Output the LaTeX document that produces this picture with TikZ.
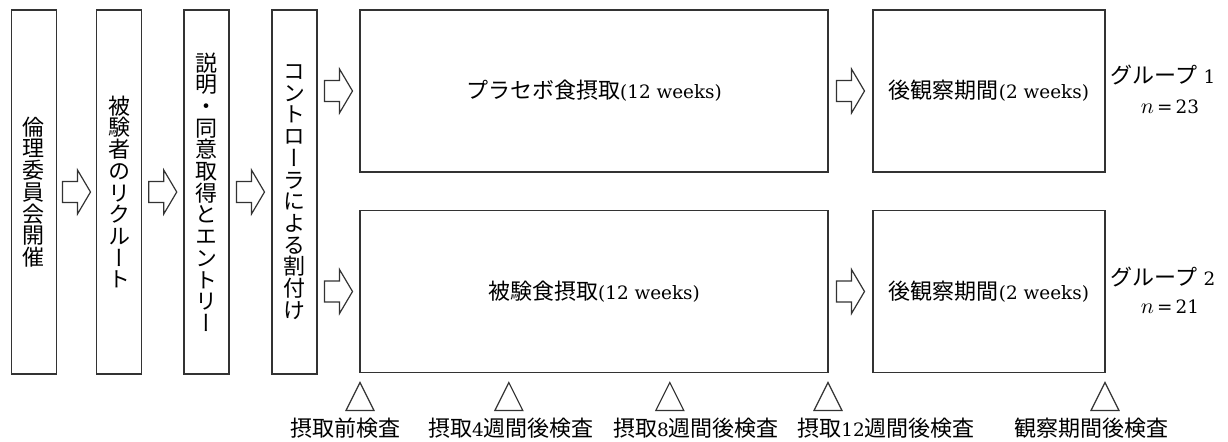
\documentclass[tikz,border=0pt]{standalone}
\usepackage{fontspec}
\usetikzlibrary{calc}
\setmainfont{DejaVu Serif}
\newfontfamily\jp{Noto Sans CJK JP}
\newfontfamily\jpv[RawFeature=+vert]{Noto Sans CJK JP}
\lineskiplimit=-30pt
\definecolor{ln}{HTML}{333333}
\newcommand{\vtxtsize}{\fontsize{11}{10.85}\selectfont}
\newcommand{\htxtsize}{\fontsize{9.2}{13}\selectfont}
\newcommand{\J}[1]{{\fontsize{11}{13}\selectfont\jp #1}}
\tikzset{
  stage/.style={draw=ln, line width=0.6pt, inner sep=0pt, outer sep=0pt,
    minimum width=22.5pt, minimum height=182pt, align=center, font=\jpv\vtxtsize},
  phase/.style={draw=ln, line width=0.6pt, inner sep=0pt, outer sep=0pt,
    minimum height=81pt, font=\htxtsize},
  lbl/.style={inner sep=0pt, font=\htxtsize},
  barrow/.pic={\draw[ln, line width=0.6pt, line join=miter]
    (-14,-10.5) -- (1,-10.5) -- (1,-22) -- (14,0) -- (1,22) -- (1,10.5) -- (-14,10.5) -- cycle;},
  tri/.pic={\draw[ln, line width=0.6pt, line join=miter]
    (-14,14) -- (0,-14) -- (14,14) -- cycle;}
}
\begin{document}
\begin{tikzpicture}[x=0.5pt,y=-0.5pt]
\useasboundingbox (0,0) rectangle (1228,441);
% vertical stage boxes
\node[stage] (b1) at (34,192)    {倫\\理\\委\\員\\会\\開\\催};
\node[stage] (b2) at (119,192)   {被\\験\\者\\の\\リ\\ク\\ル\\ー\\ト};
\node[stage] (b3) at (206.5,192) {説\\明\\・\\同\\意\\取\\得\\と\\エ\\ン\\ト\\リ\\ー};
\node[stage] (b4) at (294.5,192) {コ\\ン\\ト\\ロ\\ー\\ラ\\に\\よ\\る\\割\\付\\け};
% phase boxes
\node[phase, minimum width=234pt] (big1) at (594,91)    {\J{プラセボ食摂取}(12 weeks)};
\node[phase, minimum width=234pt] (big2) at (594,291.5) {\J{被験食摂取}(12 weeks)};
\node[phase, minimum width=116pt] (obs1) at (989,91)    {\J{後観察期間}(2 weeks)};
\node[phase, minimum width=116pt] (obs2) at (989,291.5) {\J{後観察期間}(2 weeks)};
% block arrows
\path ($(b1.east)!0.5!(b2.west)$) pic{barrow};
\path ($(b2.east)!0.5!(b3.west)$) pic{barrow};
\path ($(b3.east)!0.5!(b4.west)$) pic{barrow};
\path ($(b4.east |- big1.west)!0.5!(big1.west)$) pic{barrow};
\path ($(b4.east |- big2.west)!0.5!(big2.west)$) pic{barrow};
\path ($(big1.east)!0.5!(obs1.west)$) pic{barrow};
\path ($(big2.east)!0.5!(obs2.west)$) pic{barrow};
% group labels
\node[lbl] (g1) at (1163,75)  {\J{グループ}\,\,1};
\node[lbl] (n1) at (1170,107) {{\fontsize{11}{13}\selectfont$n$}\,=\,23};
\node[lbl] (g2) at (1163,277) {\J{グループ}\,\,2};
\node[lbl] (n2) at (1170,307) {{\fontsize{11}{13}\selectfont$n$}\,=\,21};
% triangles
\coordinate (t1) at ($(big2.south west)+(0,24)$);
\coordinate (t2) at ($($(big2.south west)!0.318!(big2.south east)$)+(0,24)$);
\coordinate (t3) at ($($(big2.south west)!0.662!(big2.south east)$)+(0,24)$);
\coordinate (t4) at ($(big2.south east)+(0,24)$);
\coordinate (t5) at ($(obs2.south east)+(0,24)$);
\foreach \t in {t1,t2,t3,t4,t5} { \path (\t) pic{tri}; }
% exam labels
\node[lbl] (l1) at (345,428)  {\J{摂取前検査}};
\node[lbl] (l2) at (511,428)  {\J{摂取}4\J{週間後検査}};
\node[lbl] (l3) at (696,428)  {\J{摂取}8\J{週間後検査}};
\node[lbl] (l4) at (886,428)  {\J{摂取}12\J{週間後検査}};
\node[lbl] (l5) at (1091,428) {\J{観察期間後検査}};
\end{tikzpicture}
\end{document}
